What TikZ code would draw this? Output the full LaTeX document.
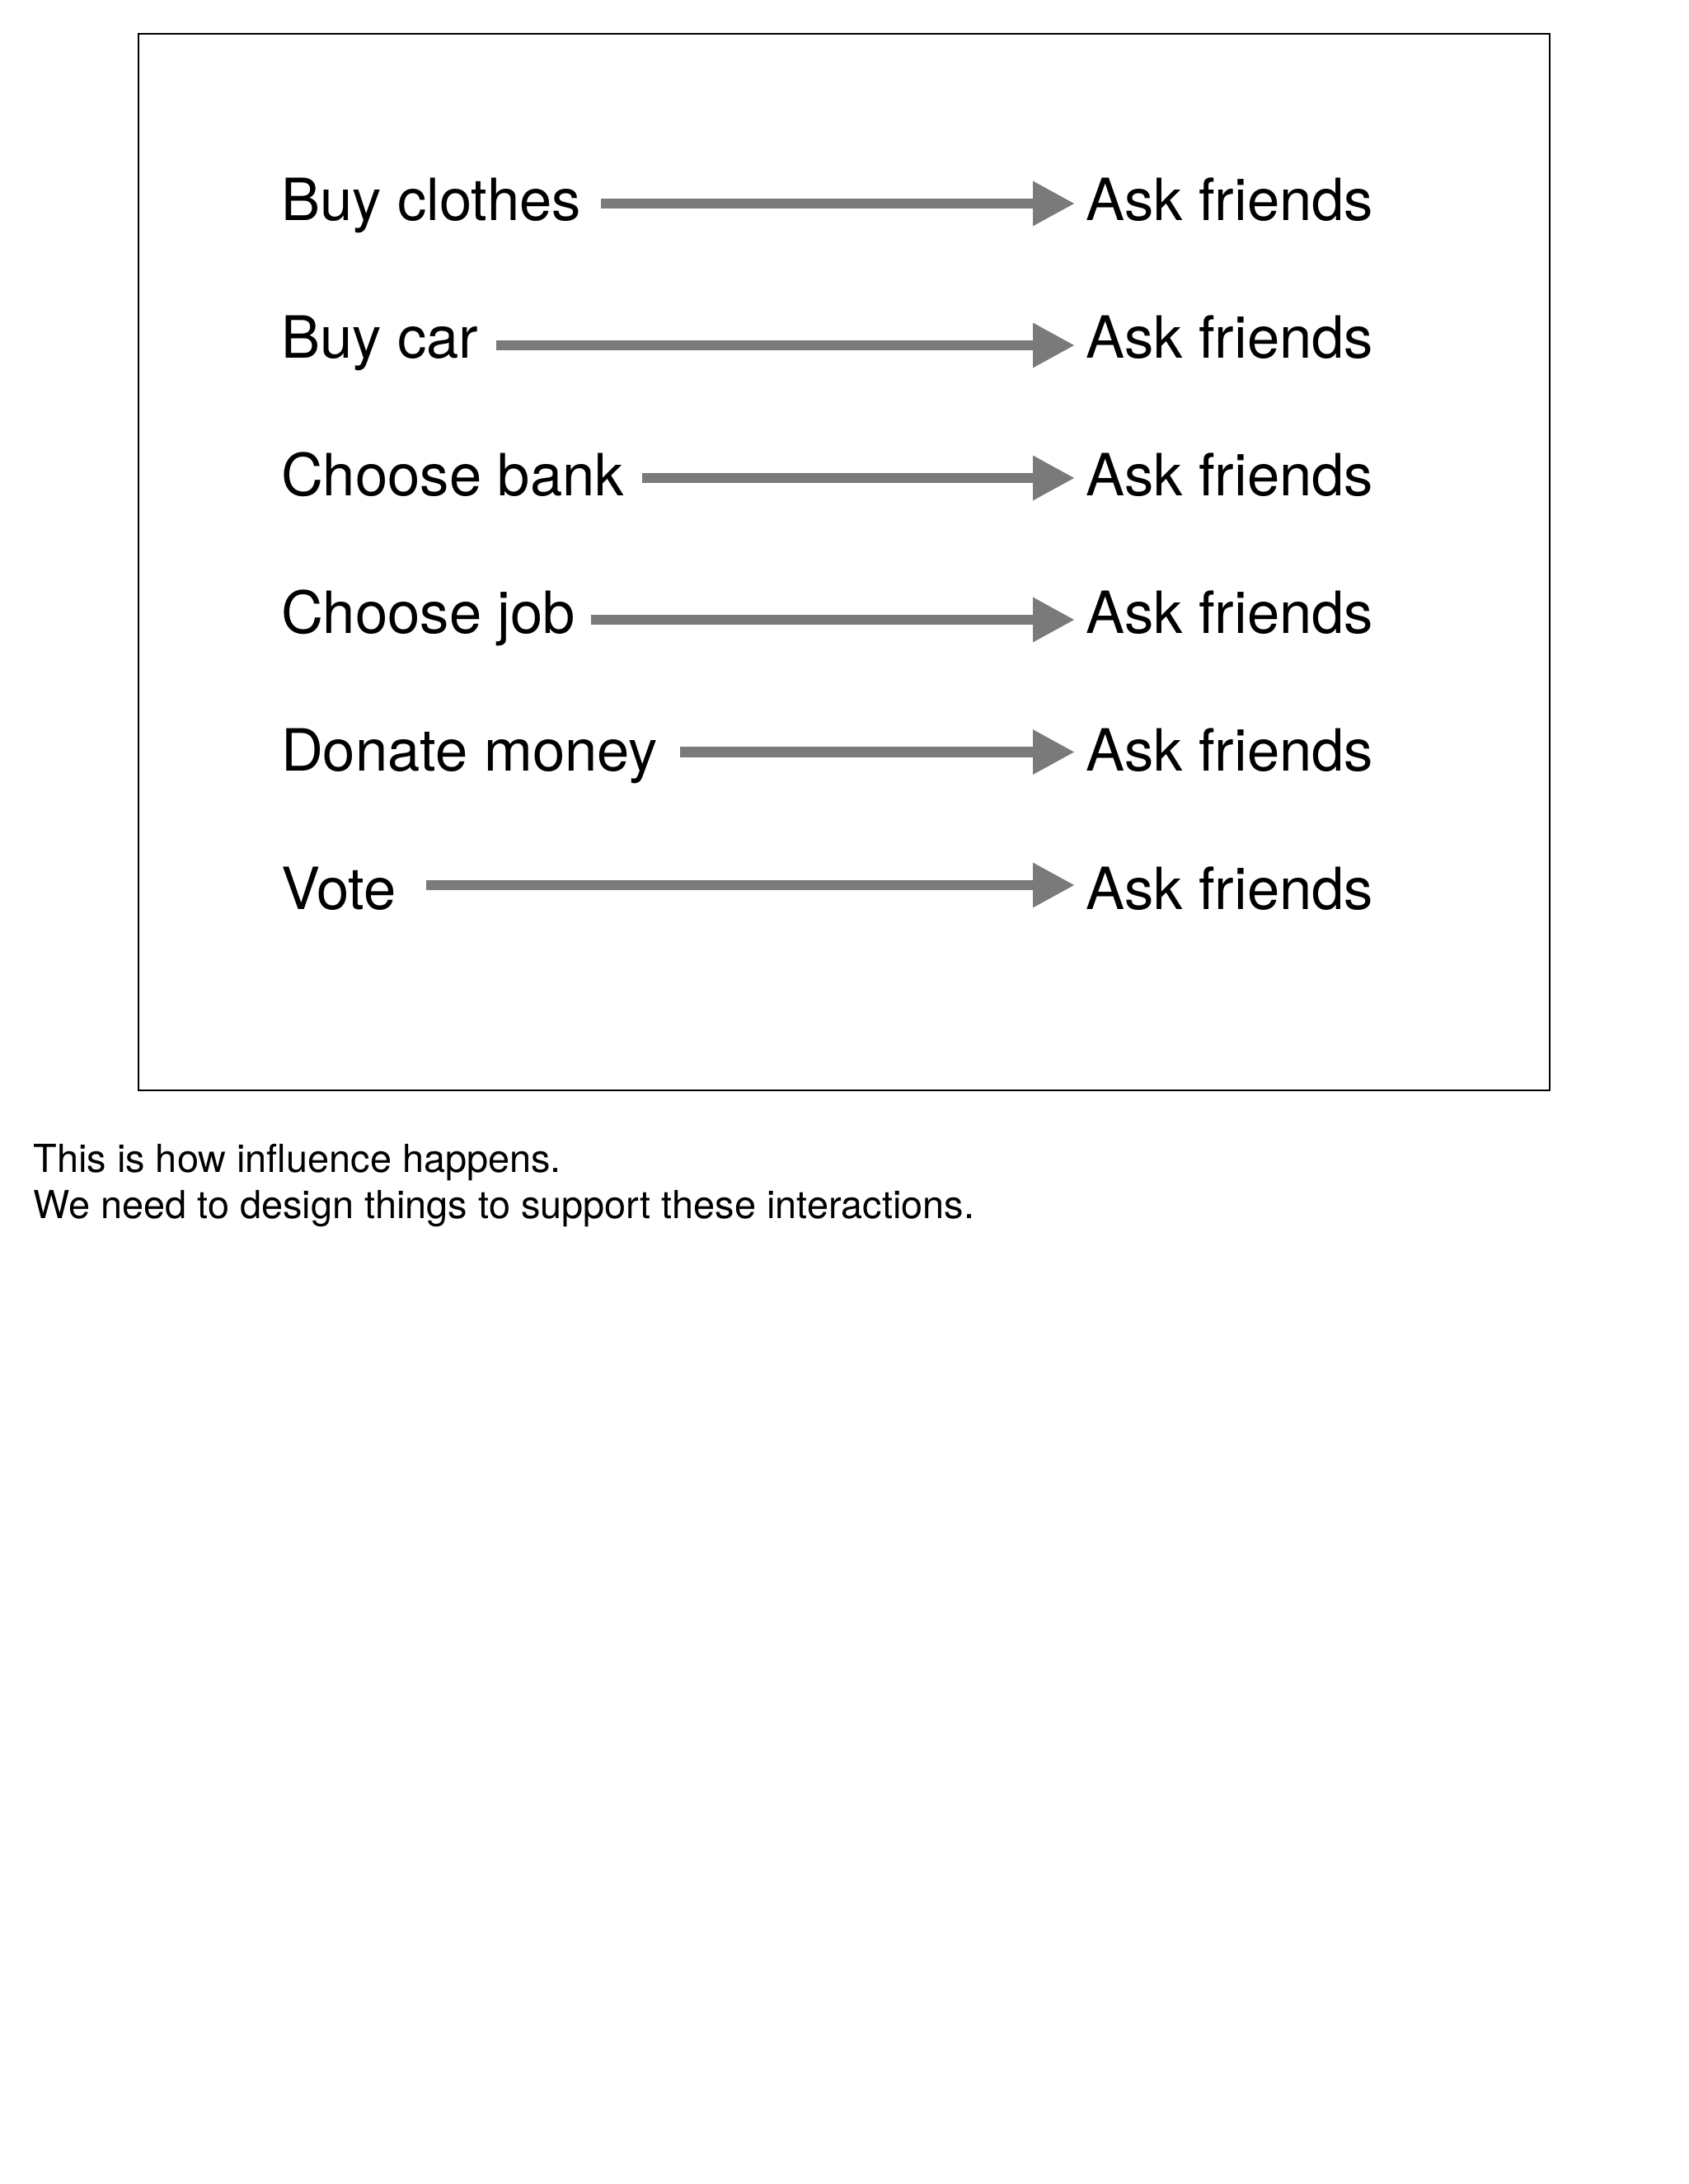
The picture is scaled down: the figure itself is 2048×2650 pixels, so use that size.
\documentclass[tikz,border=0pt]{standalone}
\usepackage{fontspec}
\setmainfont{TeX Gyre Heros}
\usetikzlibrary{arrows.meta}
\definecolor{arrowgray}{RGB}{122,122,122}
\begin{document}
\begin{tikzpicture}[x=0.25pt,y=-0.25pt,
  biglabel/.style={font=\fontsize{17.65pt}{21pt}\selectfont, inner sep=0pt, outer sep=0pt, anchor=base west},
  smalllabel/.style={font=\fontsize{11.72pt}{14pt}\selectfont, inner sep=0pt, outer sep=0pt, anchor=base west},
  conn/.style={draw=arrowgray, line width=3.1pt, -{Triangle[length=12.75pt,width=12.75pt]}, shorten >=3.25pt}]
\useasboundingbox (0,0) rectangle (2048,2650);
\fill[white] (0,0) rectangle (2048,2650);
\draw[line width=0.5pt] (167.7,40.7) rectangle (1880,1323);
% left labels
\node[biglabel] (l1) at (341,268) {Buy clothes};
\node[biglabel] (l2) at (341,435) {Buy car};
\node[biglabel] (l3) at (341,602) {Choose bank};
\node[biglabel] (l4) at (341,769) {Choose job};
\node[biglabel] (l5) at (341,936) {Donate money};
\node[biglabel] (l6) at (341,1103) {Vote};
% right labels
\node[biglabel] (r1) at (1317,268) {Ask friends};
\node[biglabel] (r2) at (1317,435) {Ask friends};
\node[biglabel] (r3) at (1317,602) {Ask friends};
\node[biglabel] (r4) at (1317,769) {Ask friends};
\node[biglabel] (r5) at (1317,936) {Ask friends};
\node[biglabel] (r6) at (1317,1103) {Ask friends};
% arrow starts
\coordinate (s1) at (729,247);
\coordinate (s2) at (602,419);
\coordinate (s3) at (779,580);
\coordinate (s4) at (716.5,752);
\coordinate (s5) at (824.6,912.5);
\coordinate (s6) at (517,1074);
\draw[conn] (s1) -- (s1 -| r1.west);
\draw[conn] (s2) -- (s2 -| r2.west);
\draw[conn] (s3) -- (s3 -| r3.west);
\draw[conn] (s4) -- (s4 -| r4.west);
\draw[conn] (s5) -- (s5 -| r5.west);
\draw[conn] (s6) -- (s6 -| r6.west);
% caption
\node[smalllabel] (c1) at (40.5,1422.3) {This is how influence happens.};
\node[smalllabel] (c2) at (40.5,1478.3) {We need to design things to support these interactions.};
\end{tikzpicture}
\end{document}
